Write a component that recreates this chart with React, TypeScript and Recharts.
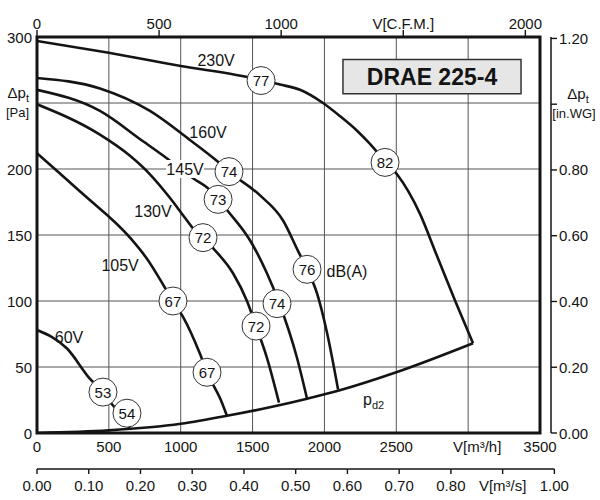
import React from "react";
import {
  ComposedChart,
  Line,
  XAxis,
  YAxis,
  CartesianGrid,
  ReferenceDot,
  ReferenceArea,
} from "recharts";

// fan curves, [flow m3/h, total pressure Pa]
const curve230V = [
  [0, 297], [500, 288], [1000, 278], [1447, 270], [1691, 264], [1830, 260],
  [1990, 250], [2109, 240], [2227, 229], [2317, 219], [2420, 206], [2505, 196],
  [2665, 166], [2780, 135], [2910, 100], [3034, 68],
];
const curve160V = [
  [0, 269], [438, 261], [786, 244], [1064, 222], [1253, 206], [1336, 198],
  [1552, 180], [1712, 161], [1816, 138], [1879, 124], [1948, 106], [2018, 76],
  [2095, 33],
];
const curve145V = [
  [0, 260], [438, 244], [738, 221], [905, 208], [1086, 193], [1204, 184],
  [1260, 177], [1329, 168], [1482, 146], [1600, 121], [1680, 100], [1809, 57],
  [1879, 26],
];
const curve130V = [
  [0, 249], [438, 226], [647, 210], [786, 196], [926, 178], [1016, 165],
  [1086, 155], [1155, 148], [1225, 140], [1364, 121], [1461, 100], [1524, 81],
  [1600, 57], [1684, 23],
];
const curve105V = [
  [0, 212], [320, 181], [647, 148], [765, 132], [891, 110], [946, 100],
  [1016, 88], [1134, 60], [1183, 46], [1287, 23], [1322, 13],
];
const curve60V = [
  [0, 78], [209, 64], [369, 41], [459, 31], [520, 22], [600, 12], [645, 3],
];
const curvePd2 = [
  [0, 0], [500, 2], [1000, 7], [1322, 13], [1684, 21], [1879, 26], [2095, 32],
  [2500, 46], [3034, 68],
];

// sound level marks on the curves, [flow, pressure, dB(A)]
const dbMarks = [
  [1559, 267, 77], [2422, 205, 82], [1336, 198, 74], [1260, 177, 73],
  [1155, 148, 72], [1879, 124, 76], [1670, 98, 74], [1524, 81, 72],
  [946, 100, 67], [1183, 46, 67], [459, 31, 53], [626, 15, 54],
];

// curve names, [flow, pressure, text]
const curveNames: [number, number, string][] = [
  [1246, 282, "230V"], [1190, 228, "160V"], [1030, 200, "145V"],
  [807, 168, "130V"], [578, 127, "105V"], [223, 72, "60V"], [2157, 122, "dB(A)"],
];

const flowTicks = [0, 500, 1000, 1500, 2000, 2500, 3000, 3500];
const paTicks = [0, 50, 100, 150, 200, 250, 300];
const cfmTicks = [0, 500, 1000, 1500, 2000];
const msTicks = [0, 0.1, 0.2, 0.3, 0.4, 0.5, 0.6, 0.7, 0.8, 0.9, 1.0];
const inwgTicks = [0, 0.2, 0.4, 0.6, 0.8, 1.0, 1.2];

const FLOW_MAX = 3500;
const PA_MAX = 300;
const CFM_MAX = FLOW_MAX / 1.699;
const MS_MAX = FLOW_MAX / 3600;
const INWG_MAX = PA_MAX / 249.09;

const FONT = '"Liberation Sans", Arial, Helvetica, sans-serif';
const INK = "#141414";

const CHART_W = 600;
const CHART_H = 500;
const LEFT_W = 37;
const RIGHT_GAP = 11;
const RIGHT_W = 49;
const PLOT_W = CHART_W - LEFT_W - RIGHT_GAP - RIGHT_W;

const toPts = (c: number[][]) => c.map(([q, p]) => ({ q, p }));
// two points per secondary axis so that it has something to scale
const cfmSpan = [{ q: 0, p: 0 }, { q: CFM_MAX, p: 0 }];
const msSpan = [{ q: 0, p: 0 }, { q: MS_MAX, p: 0 }];

const FlowTick = ({ x, y, payload }: any) => {
  const unit = payload.value === 3000;
  return (
    <text x={x + (unit ? 9 : 0)} y={y + 19} textAnchor="middle" fontSize={15} fill={INK}>
      {unit ? "V[m³/h]" : payload.value}
    </text>
  );
};

const MsTick = ({ x, y, payload }: any) => {
  const v = payload.value;
  const step = (0.1 / MS_MAX) * PLOT_W;
  const unit = Math.abs(v - 0.9) < 1e-6;
  return (
    <g>
      {v > 0 && <line x1={x - step} x2={x} y1={y} y2={y} stroke={INK} strokeWidth={1.4} />}
      <line x1={x} x2={x} y1={y} y2={y + 5} stroke={INK} strokeWidth={1.4} />
      <text x={x} y={y + 22} textAnchor="middle" fontSize={15} fill={INK}>
        {unit ? "V[m³/s]" : v.toFixed(2)}
      </text>
    </g>
  );
};

const CfmTick = ({ x, y, payload }: any) => {
  const v = payload.value;
  const step = (500 / CFM_MAX) * PLOT_W;
  return (
    <g>
      {v > 0 && <line x1={x - step} x2={x} y1={y} y2={y} stroke={INK} strokeWidth={1.4} />}
      <line x1={x} x2={x} y1={y} y2={y - 7} stroke={INK} strokeWidth={1.4} />
      <text x={x} y={y - 8} textAnchor="middle" fontSize={15} fill={INK}>
        {v === 1500 ? "V[C.F.M.]" : v}
      </text>
    </g>
  );
};

const PaTick = ({ x, y, payload }: any) => {
  if (payload.value === 250) {
    return (
      <g>
        <text x={x - 8} y={y - 5} textAnchor="end" fontSize={15} fill={INK}>
          Δp<tspan dy={4} fontSize={11}>t</tspan>
        </text>
        <text x={x - 8} y={y + 14} textAnchor="end" fontSize={13} fill={INK}>
          [Pa]
        </text>
      </g>
    );
  }
  return (
    <text x={x - 5} y={y + 5.5} textAnchor="end" fontSize={15} fill={INK}>
      {payload.value}
    </text>
  );
};

const InwgTick = ({ x, y, payload }: any) => {
  const v = payload.value;
  return (
    <g>
      <line x1={x} x2={x + 6} y1={y} y2={y} stroke={INK} strokeWidth={1.4} />
      {Math.abs(v - 1) < 1e-6 ? (
        <>
          <text x={x + 27} y={y - 5} textAnchor="middle" fontSize={15} fill={INK}>
            Δp<tspan dy={4} fontSize={11}>t</tspan>
          </text>
          <text x={x + 23} y={y + 14} textAnchor="middle" fontSize={13} fill={INK}>
            [in.WG]
          </text>
        </>
      ) : (
        <text x={x + 8} y={y + 5.5} textAnchor="start" fontSize={15} fill={INK}>
          {v.toFixed(2)}
        </text>
      )}
    </g>
  );
};

const DbCircle = (db: number) => (props: any) => (
  <g>
    <circle cx={props.cx} cy={props.cy} r={14} fill="#fff" stroke="#333" strokeWidth={1} />
    <text x={props.cx} y={props.cy} textAnchor="middle" dominantBaseline="central" fontSize={15} fill={INK}>
      {db}
    </text>
  </g>
);

const NameText = (text: string) => (props: any) => (
  <g>
    {text === "145V" && (
      <rect x={props.cx - 19} y={props.cy - 9} width={38} height={18} fill="#fff" />
    )}
    <text x={props.cx} y={props.cy} textAnchor="middle" dominantBaseline="central" fontSize={16} fill={INK}>
      {text}
    </text>
  </g>
);

const Pd2Text = (props: any) => (
  <text x={props.cx} y={props.cy + 5} textAnchor="start" fontSize={16} fill={INK}>
    p<tspan dy={4} fontSize={11}>d2</tspan>
  </text>
);

const series = [curve230V, curve160V, curve145V, curve130V, curve105V, curve60V, curvePd2];

export default function App() {
  return (
    <div style={{ position: "absolute", left: 0, top: 0, width: CHART_W, height: CHART_H, background: "#fff", fontFamily: FONT }}>
      <ComposedChart width={CHART_W} height={CHART_H} margin={{ top: 0, right: 0, bottom: 1, left: 0 }}>
        <CartesianGrid xAxisId="main" yAxisId="pa" stroke="#555" strokeWidth={1} />
        <XAxis xAxisId="main" type="number" dataKey="q" domain={[0, FLOW_MAX]} ticks={flowTicks}
          interval={0} allowDataOverflow height={36} axisLine={false} tickLine={false}
          tickSize={0} tickMargin={0} tick={FlowTick} />
        <XAxis xAxisId="ms" type="number" dataKey="q" orientation="bottom" domain={[0, MS_MAX]} ticks={msTicks}
          interval={0} allowDataOverflow height={30} axisLine={false} tickLine={false}
          tickSize={0} tickMargin={0} tick={MsTick} />
        <XAxis xAxisId="gapTop" type="number" dataKey="q" orientation="top" domain={[0, FLOW_MAX]} height={12}
          axisLine={false} tickLine={false} tick={false} />
        <XAxis xAxisId="cfm" type="number" dataKey="q" orientation="top" domain={[0, CFM_MAX]} ticks={cfmTicks}
          interval={0} allowDataOverflow height={25} axisLine={false} tickLine={false}
          tickSize={0} tickMargin={0} tick={CfmTick} />
        <YAxis yAxisId="pa" type="number" domain={[0, PA_MAX]} ticks={paTicks} interval={0}
          allowDataOverflow width={LEFT_W} axisLine={false} tickLine={false}
          tickSize={0} tickMargin={0} tick={PaTick} />
        <YAxis yAxisId="gapRight" orientation="right" type="number" domain={[0, PA_MAX]}
          width={RIGHT_GAP} axisLine={false} tickLine={false} tick={false} />
        <YAxis yAxisId="inwg" orientation="right" type="number" domain={[0, INWG_MAX]} ticks={inwgTicks}
          interval={0} allowDataOverflow width={RIGHT_W} axisLine={{ stroke: INK, strokeWidth: 1.5 }}
          tickLine={false} tickSize={0} tickMargin={0} tick={InwgTick} />

        <ReferenceArea xAxisId="main" yAxisId="pa" x1={0} x2={FLOW_MAX} y1={0} y2={PA_MAX}
          fill="none" fillOpacity={0} stroke={INK} strokeWidth={3} ifOverflow="visible" />
        <ReferenceArea xAxisId="main" yAxisId="pa" x1={2129} x2={3368} y1={257} y2={283}
          fill="#e6e6e6" fillOpacity={1} stroke="#333" strokeWidth={1.5}
          label={{ value: "DRAE 225-4", position: "center", fontSize: 23, fontWeight: 700, fill: INK }} />

        <Line xAxisId="cfm" yAxisId="pa" data={cfmSpan} dataKey="p" stroke="none" dot={false}
          activeDot={false} isAnimationActive={false} />
        <Line xAxisId="ms" yAxisId="pa" data={msSpan} dataKey="p" stroke="none" dot={false}
          activeDot={false} isAnimationActive={false} />

        {series.map((c, i) => (
          <Line key={i} xAxisId="main" yAxisId="pa" data={toPts(c)} dataKey="p" type="monotone"
            stroke={INK} strokeWidth={2.6} dot={false} activeDot={false} isAnimationActive={false} />
        ))}

        {curveNames.map(([q, p, t]) => (
          <ReferenceDot key={t} xAxisId="main" yAxisId="pa" x={q} y={p} r={0} shape={NameText(t)} />
        ))}
        <ReferenceDot xAxisId="main" yAxisId="pa" x={2269} y={25} r={0} shape={Pd2Text} />
        {dbMarks.map(([q, p, db], i) => (
          <ReferenceDot key={"db" + i} xAxisId="main" yAxisId="pa" x={q} y={p} r={14} shape={DbCircle(db)} />
        ))}
      </ComposedChart>
    </div>
  );
}
